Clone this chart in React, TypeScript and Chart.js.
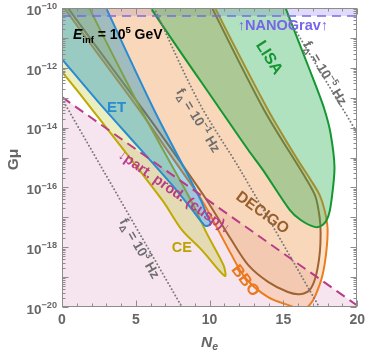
import React, { useEffect, useRef } from "react";
import { Chart, registerables } from "chart.js";
Chart.register(...registerables);

// ---------- axes ----------
const NE_TICKS = [0, 5, 10, 15, 20];
const LOG_GMU_TICKS = [-20, -18, -16, -14, -12, -10];

// ---------- regions (x = N_e, y = log10 Gμ) ----------
const etNe = [2.9, 3.02, 6.24, 9.4, 9.8, 10.07, 9.73, 9.46, 8.93, 7.58, 5.23, 2.35, 0, -0.6, -0.6];
const etLogG = [-9.85, -10.03, -13.41, -16.42, -16.92, -17.22, -17.29, -17.16, -16.82, -15.99, -14.68, -13.08, -11.71, -11.36, -9.85];

const ceNe = [1.8, 1.88, 5.37, 8.72, 9.8, 10.94, 11.07, 10.74, 9.46, 8.12, 6.78, 1.54, 0, -0.6, -0.6];
const ceLogG = [-9.85, -10.03, -13.41, -16.42, -17.53, -18.6, -18.96, -18.83, -18.09, -17.42, -16.42, -13.08, -12.14, -11.8, -9.85];

const bboNe = [10.3, 10.4, 13.96, 15.97, 16.85, 17.45, 17.79, 17.99, 17.92, 17.65, 17.18, 16.78, 16.31, 15.3, 13.96, 12.42, 11.41, 10.47, 9.46, 7.58, 5.23, 0.2, 0.08];
const bboLogG = [-9.85, -10.03, -13.41, -15.08, -15.75, -16.25, -16.76, -17.36, -18.09, -18.93, -19.6, -19.93, -20.07, -19.93, -19.67, -19.03, -18.19, -17.32, -16.42, -15.08, -13.41, -10.03, -9.85];

const decigoNe = [10.1, 10.2, 13.69, 16.58, 17.18, 17.45, 17.52, 17.45, 17.18, 16.78, 16.11, 15.3, 13.96, 12.62, 11.48, 9.8, 7.92, 5.5, 0.45, 0.33];
const decigoLogG = [-9.85, -10.03, -13.41, -15.75, -16.32, -16.99, -17.52, -18.26, -19.0, -19.43, -19.57, -19.5, -19.16, -18.6, -17.76, -16.42, -15.08, -13.41, -10.03, -9.85];

const lisaNe = [6.0, 6.11, 10.74, 12.62, 13.62, 15.44, 16.17, 17.11, 17.65, 18.05, 18.26, 18.46, 18.19, 17.79, 17.18, 16.17, 15.17, 15.05];
const lisaLogG = [-9.85, -10.07, -13.41, -14.75, -15.42, -16.76, -17.09, -17.32, -17.26, -16.95, -16.42, -15.32, -14.18, -13.41, -12.58, -11.3, -10.03, -9.85];

// particle production (cusp) bound
const ppNe = [0, 20];
const ppLogG = [-12.98, -19.95];
const ppFillNe = [0, 20, 20, 0];
const ppFillLogG = [-12.98, -19.95, -20.5, -20.5];

// NANOGrav bound
const nanoNe = [0, 20];
const nanoLogG = [-10.27, -10.27];
const nanoFillNe = [0, 20, 20, 0];
const nanoFillLogG = [-10.27, -10.27, -9.5, -9.5];

// f_Δ contours
const f3Ne = [0, 8.3];
const f3LogG = [-13.04, -20.15];
const f1Ne = [6.15, 9.26, 12.08, 17.6];
const f1LogG = [-9.9, -13.14, -15.42, -20.15];
const f5Ne = [15.4, 20.0];
const f5LogG = [-10.4, -14.18];

// label anchors (N_e, log10 Gμ)
const labelNe = { einf: 0.74, et: 3.69, ce: 8.12, bbo: 12.48, decigo: 13.62, lisa: 14.09, nano: 14.97, pp: 7.65, f1: 9.26, f5: 17.85, f3: 5.3 };
const labelLogG = { einf: -10.87, et: -13.31, ce: -17.99, bbo: -19.1, decigo: -16.82, lisa: -11.64, nano: -10.57, pp: -16.12, f1: -13.75, f5: -12.17, f3: -18.03 };

// ---------- helpers ----------
type Seg = { t: string; s?: "sub" | "sup"; i?: boolean };
const FONT = '"Liberation Sans", Arial, Helvetica, sans-serif';

const pts = (xs: number[], ys: number[]) => xs.map((x, i) => ({ x, y: ys[i] }));

function segFont(s: Seg, size: number) {
  const fs = s.s ? size * 0.68 : size;
  return `${s.i ? "italic " : ""}bold ${fs}px ${FONT}`;
}

function drawRich(
  ctx: CanvasRenderingContext2D,
  segs: Seg[],
  cx: number,
  cy: number,
  ang: number,
  size: number,
  color: string,
  align: "left" | "center" | "right" = "center"
) {
  ctx.save();
  ctx.translate(cx, cy);
  ctx.rotate((ang * Math.PI) / 180);
  ctx.fillStyle = color;
  ctx.textAlign = "left";
  ctx.textBaseline = "alphabetic";
  let w = 0;
  const ws = segs.map((s) => {
    ctx.font = segFont(s, size);
    const m = ctx.measureText(s.t).width;
    w += m;
    return m;
  });
  let xx = align === "center" ? -w / 2 : align === "right" ? -w : 0;
  const base = size * 0.36;
  segs.forEach((s, k) => {
    ctx.font = segFont(s, size);
    const dy = s.s === "sub" ? size * 0.25 : s.s === "sup" ? -size * 0.42 : 0;
    ctx.fillText(s.t, xx, base + dy);
    xx += ws[k];
  });
  ctx.restore();
}

const supMinus = (v: number) => "\u2212" + Math.abs(v);

const overlay = {
  id: "overlay",
  afterDraw(chart: any) {
    const { ctx, chartArea: a } = chart;
    const x = chart.scales.x;
    const y = chart.scales.y;
    const px = (v: number) => x.getPixelForValue(v);
    const py = (v: number) => y.getPixelForValue(v);
    const angOf = (xs: number[], ys: number[], i0: number, i1: number) =>
      (Math.atan2(py(ys[i1]) - py(ys[i0]), px(xs[i1]) - px(xs[i0])) * 180) / Math.PI;

    ctx.save();
    ctx.beginPath();
    ctx.rect(a.left, a.top, a.right - a.left, a.bottom - a.top);
    ctx.clip();
    drawRich(ctx, [{ t: "E", i: true }, { t: "inf", s: "sub" }, { t: " = 10" }, { t: "5", s: "sup" }, { t: " GeV" }],
      px(labelNe.einf), py(labelLogG.einf), 0, 14, "#000", "left");
    drawRich(ctx, [{ t: "ET" }], px(labelNe.et), py(labelLogG.et), 0, 15, "rgb(40,140,210)");
    drawRich(ctx, [{ t: "CE" }], px(labelNe.ce), py(labelLogG.ce), 0, 14.5, "rgb(185,165,0)");
    drawRich(ctx, [{ t: "BBO" }], px(labelNe.bbo), py(labelLogG.bbo), 52, 16, "rgb(235,120,30)");
    drawRich(ctx, [{ t: "DECIGO" }], px(labelNe.decigo), py(labelLogG.decigo), 36, 15.5, "rgb(150,95,45)");
    drawRich(ctx, [{ t: "LISA" }], px(labelNe.lisa), py(labelLogG.lisa), 58, 16, "rgb(20,150,50)");
    drawRich(ctx, [{ t: "\u2191NANOGrav\u2191" }], px(labelNe.nano), py(labelLogG.nano), 0, 14.5, "rgb(120,100,235)");
    drawRich(ctx, [{ t: "\u2193part. prod. (cusp)\u2193" }], px(labelNe.pp), py(labelLogG.pp),
      angOf(ppNe, ppLogG, 0, 1), 14.5, "rgb(185,60,135)");
    const grey = "rgb(110,110,110)";
    drawRich(ctx, [{ t: "f" }, { t: "\u0394", s: "sub" }, { t: " = 10" }, { t: "\u22121", s: "sup" }, { t: " Hz" }],
      px(labelNe.f1), py(labelLogG.f1), angOf(f1Ne, f1LogG, 1, 2), 13.5, grey);
    drawRich(ctx, [{ t: "f" }, { t: "\u0394", s: "sub" }, { t: " = 10" }, { t: "\u22125", s: "sup" }, { t: " Hz" }],
      px(labelNe.f5), py(labelLogG.f5), angOf(f5Ne, f5LogG, 0, 1), 13.5, grey);
    drawRich(ctx, [{ t: "f" }, { t: "\u0394", s: "sub" }, { t: " = 10" }, { t: "3", s: "sup" }, { t: " Hz" }],
      px(labelNe.f3), py(labelLogG.f3), angOf(f3Ne, f3LogG, 0, 1), 13.5, grey);
    ctx.restore();

    ctx.save();
    ctx.strokeStyle = "#8c8c8c";
    ctx.lineWidth = 1;
    const L = Math.round(a.left) + 0.5;
    const R = Math.round(a.right) - 0.5;
    const T = Math.round(a.top) + 0.5;
    const B = Math.round(a.bottom) - 0.5;
    ctx.strokeRect(L, T, R - L, B - T);
    ctx.beginPath();
    for (let d = -20; d <= -10; d++) {
      for (let k = 1; k <= 9; k++) {
        const v = d + Math.log10(k);
        if (v > -10) break;
        const yy = Math.round(py(v)) + 0.5;
        const len = k === 1 ? 6 : 3;
        ctx.moveTo(L, yy); ctx.lineTo(L + len, yy);
        ctx.moveTo(R, yy); ctx.lineTo(R - len, yy);
      }
    }
    for (let n = 0; n <= 20; n++) {
      const xx = Math.round(px(n)) + 0.5;
      const len = n % 5 === 0 ? 6 : 3;
      ctx.moveTo(xx, B); ctx.lineTo(xx, B - len);
      ctx.moveTo(xx, T); ctx.lineTo(xx, T + len);
    }
    ctx.stroke();
    ctx.restore();

    LOG_GMU_TICKS.forEach((v) => {
      drawRich(ctx, [{ t: "10" }, { t: supMinus(v), s: "sup" }], a.left - 5, py(v) + 2, 0, 13.5, "#666", "right");
    });

    drawRich(ctx, [{ t: "G\u03bc" }], 12.5, (a.top + a.bottom) / 2 + 2, -90, 15.5, "#666");
    drawRich(ctx, [{ t: "N", i: true }, { t: "e", s: "sub", i: true }], (a.left + a.right) / 2, 341, 0, 15.5, "#666");
  },
};

function region(xs: number[], ys: number[], line: string, fill: string, order: number) {
  return {
    data: pts(xs, ys),
    showLine: true,
    borderColor: line,
    backgroundColor: fill,
    borderWidth: 2,
    fill: "shape",
    pointRadius: 0,
    tension: 0.3,
    order,
    clip: 0,
  };
}

function curve(xs: number[], ys: number[], color: string, dash: number[], width: number, cap: string, order: number, tension = 0) {
  return {
    data: pts(xs, ys),
    showLine: true,
    borderColor: color,
    borderWidth: width,
    borderDash: dash,
    borderCapStyle: cap,
    fill: false,
    pointRadius: 0,
    tension,
    order,
    clip: 0,
  };
}

export default function App() {
  const ref = useRef<HTMLCanvasElement | null>(null);
  useEffect(() => {
    if (!ref.current) return;
    const dotted = "rgb(120,120,120)";
    const chart = new Chart(ref.current, {
      type: "scatter",
      data: {
        datasets: [
          curve(ppNe, ppLogG, "rgb(185,60,135)", [10, 6], 2, "butt", 1) as any,
          curve(nanoNe, nanoLogG, "rgb(120,105,235)", [9, 6], 1.6, "butt", 1) as any,
          curve(f3Ne, f3LogG, dotted, [0, 3.6], 2, "round", 2) as any,
          curve(f1Ne, f1LogG, dotted, [0, 3.6], 2, "round", 2, 0.3) as any,
          curve(f5Ne, f5LogG, dotted, [0, 3.6], 2, "round", 2) as any,
          region(lisaNe, lisaLogG, "rgb(20,150,50)", "rgba(40,175,80,0.36)", 3) as any,
          region(etNe, etLogG, "rgb(40,140,210)", "rgba(20,145,195,0.38)", 4) as any,
          region(ceNe, ceLogG, "rgb(190,170,0)", "rgba(190,200,50,0.3)", 5) as any,
          region(decigoNe, decigoLogG, "rgb(160,100,50)", "rgba(215,150,90,0.14)", 6) as any,
          region(bboNe, bboLogG, "rgb(235,125,30)", "rgba(248,170,100,0.34)", 7) as any,
          { ...region(nanoFillNe, nanoFillLogG, "rgba(0,0,0,0)", "rgba(130,110,240,0.25)", 8), borderWidth: 0, tension: 0 } as any,
          { ...region(ppFillNe, ppFillLogG, "rgba(0,0,0,0)", "rgba(215,135,180,0.22)", 9), borderWidth: 0, tension: 0 } as any,
        ],
      },
      options: {
        responsive: false,
        animation: false,
        events: [],
        layout: { padding: { left: 0, right: 10, top: 8, bottom: 0 } },
        plugins: { legend: { display: false }, tooltip: { enabled: false } },
        scales: {
          x: {
            type: "linear",
            min: NE_TICKS[0],
            max: NE_TICKS[NE_TICKS.length - 1],
            ticks: {
              stepSize: 5,
              autoSkip: false,
              maxRotation: 0,
              color: "#666",
              padding: 5,
              font: { family: FONT, size: 14, weight: "bold" },
            },
            grid: { display: false, drawTicks: false },
            border: { display: false },
            afterFit: (s: any) => { s.height = 46; },
          },
          y: {
            type: "linear",
            min: LOG_GMU_TICKS[0],
            max: LOG_GMU_TICKS[LOG_GMU_TICKS.length - 1],
            ticks: { display: false, stepSize: 2 },
            grid: { display: false, drawTicks: false },
            border: { display: false },
            afterFit: (s: any) => { s.width = 62; },
          },
        },
      } as any,
      plugins: [overlay as any],
    });
    return () => chart.destroy();
  }, []);
  return (
    <div style={{ position: "fixed", left: 0, top: 0, width: 370, height: 353, background: "#fff" }}>
      <canvas ref={ref} width={370} height={353} style={{ display: "block" }} />
    </div>
  );
}
